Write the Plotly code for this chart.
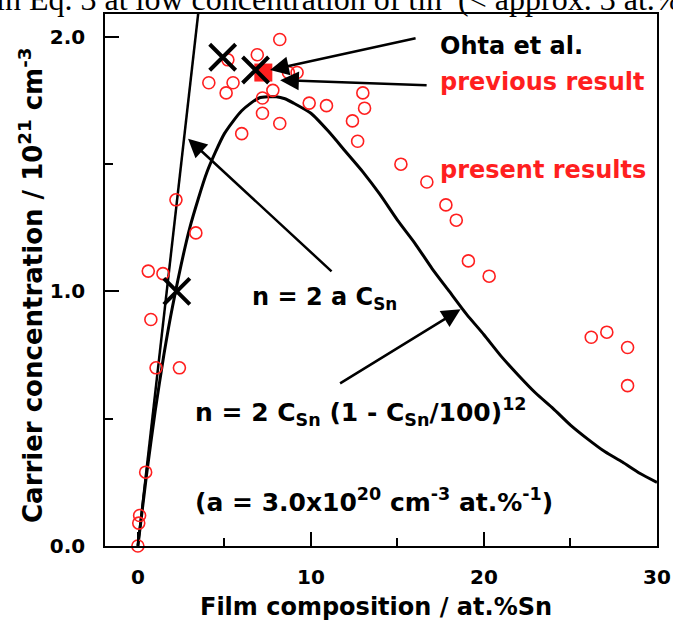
import plotly.graph_objects as go

# ---- data ----
present_x = [0.0, 0.05, 0.1, 0.45, 0.6, 1.45, 0.75, 1.05, 2.4, 2.2, 3.35, 4.1, 5.1, 5.5, 5.2,
             6.0, 6.9, 7.2, 7.2, 7.8, 8.2, 8.2, 8.7, 9.2, 9.9, 10.9, 12.4, 12.7, 13.0, 13.1,
             15.2, 16.7, 17.8, 18.4, 19.1, 20.3, 26.2, 27.1, 28.3, 28.3]
present_y = [0.0, 0.09, 0.12, 0.29, 1.08, 1.07, 0.89, 0.70, 0.70, 1.36, 1.23, 1.82, 1.78, 1.82, 1.91,
             1.62, 1.93, 1.70, 1.76, 1.79, 1.99, 1.66, 1.86, 1.86, 1.74, 1.73, 1.67, 1.59, 1.78, 1.72,
             1.50, 1.43, 1.34, 1.28, 1.12, 1.06, 0.82, 0.84, 0.78, 0.63]

ohta_x = [2.25, 4.9, 6.8]
ohta_y = [1.0, 1.92, 1.87]

previous_x = [7.25]
previous_y = [1.86]

# n = 2 C_Sn (1 - C_Sn/100)^12 curve
curve_x = [0, 0.5, 1, 1.5, 2, 3, 4, 5, 6, 7, 8, 8.5, 9, 10, 11, 12, 13, 14, 15, 16, 17, 18,
           19, 20, 21, 22, 23, 24, 25, 26, 27, 28, 29, 30]
curve_y = [0, 0.28, 0.53, 0.75, 0.94, 1.25, 1.47, 1.62, 1.71, 1.76, 1.765, 1.757, 1.74, 1.70,
           1.63, 1.55, 1.47, 1.38, 1.28, 1.19, 1.09, 1.00, 0.91, 0.83, 0.745, 0.67, 0.60, 0.54,
           0.475, 0.42, 0.37, 0.33, 0.286, 0.25]

# n = 2 a C_Sn straight line
line_x = [0, 3.6]
line_y = [0, 2.16]

x_ticks = [0, 10, 20, 30]
y_ticks = [0.0, 1.0, 2.0]

FONT = "DejaVu Sans"
RED = "#ff1f1f"

fig = go.Figure()
fig.add_trace(go.Scatter(x=line_x, y=line_y, mode="lines",
                         line=dict(color="black", width=2.5), showlegend=False))
fig.add_trace(go.Scatter(x=curve_x, y=curve_y, mode="lines", line_shape="spline",
                         line=dict(color="black", width=3, smoothing=0.6), showlegend=False))
fig.add_trace(go.Scatter(x=present_x, y=present_y, mode="markers",
                         marker=dict(symbol="circle-open", size=12, color=RED,
                                     line=dict(width=1.6, color=RED)),
                         cliponaxis=False, showlegend=False))
fig.add_trace(go.Scatter(x=previous_x, y=previous_y, mode="markers",
                         marker=dict(symbol="square", size=18, color=RED),
                         showlegend=False))
fig.add_trace(go.Scatter(x=ohta_x, y=ohta_y, mode="markers",
                         marker=dict(symbol="x-thin-open", size=26, color="black",
                                     line=dict(width=4, color="black")),
                         showlegend=False))

W, H = 673, 630
L, R, T, B = 105, 16, 14, 84
pw, ph = W - L - R, H - T - B


def px(xp):
    return (xp - L) / pw


def py(yp):
    return (H - B - yp) / ph


ann = []
# arrows (tip in data coords, tail offset in pixels)
for tx, ty, ax, ay in [(7.64, 1.87, 147, -32), (8.22, 1.83, 148, 5),
                       (2.9, 1.60, 145, 134), (18.65, 0.93, -122, 75)]:
    ann.append(dict(x=tx, y=ty, xref="x", yref="y", ax=ax, ay=ay, text="",
                    showarrow=True, arrowhead=2, arrowsize=1.5, arrowwidth=2.5,
                    arrowcolor="black", standoff=0))

def label(text, xp, yp, color="black", size=24, xanchor="left"):
    ann.append(dict(x=px(xp), y=py(yp), xref="paper", yref="paper", text=text,
                    showarrow=False, xanchor=xanchor, yanchor="middle",
                    font=dict(family=FONT, size=size, color=color)))

label("<b>Ohta et al.</b>", 438, 46)
label("<b>previous result</b>", 438, 82, RED)
label("<b>present results</b>", 438, 170, RED)
label("<b>n = 2 a C<sub>Sn</sub></b>", 250, 298)
label("<b>n = 2 C<sub>Sn</sub> (1 - C<sub>Sn</sub>/100)<sup>12</sup></b>", 193, 412, size=25)
label("<b>(a = 3.0x10<sup>20</sup> cm<sup>-3</sup> at.%<sup>-1</sup>)</b>", 193, 500, size=25)

# axis titles
label("<b>Film composition / at.%Sn</b>", 376, 607, size=24, xanchor="center")
ann.append(dict(x=px(31), y=py(286), xref="paper", yref="paper",
                text="<b>Carrier concentration / 10<sup>21</sup> cm<sup>-3</sup></b>",
                showarrow=False, textangle=-90, xanchor="center", yanchor="middle",
                font=dict(family=FONT, size=26, color="black")))

# clipped caption text from the page above the figure
ann.append(dict(x=px(-6), y=py(19), xref="paper", yref="paper",
                text="in Eq. 3 at low concentration of tin  (< approx. 3 at.%",
                showarrow=False, xanchor="left", yanchor="bottom",
                font=dict(family="Liberation Serif", size=32, color="black")))

fig.update_layout(
    width=W, height=H,
    margin=dict(l=L, r=R, t=T, b=B, autoexpand=False),
    paper_bgcolor="white", plot_bgcolor="white",
    annotations=ann,
    showlegend=False,
)
fig.update_xaxes(range=[-1.9, 30], tickvals=x_ticks, ticks="inside", ticklen=14,
                 tickwidth=1.5, tickcolor="black", automargin=False,
                 minor=dict(dtick=5, tick0=0, ticks="inside", ticklen=8, tickwidth=1.5,
                            tickcolor="black", showgrid=False),
                 showline=True, linecolor="black", linewidth=1.5, mirror=True,
                 showgrid=False, zeroline=False, ticklabelstandoff=12,
                 ticklabeloverflow="allow",
                 tickfont=dict(family=FONT, size=20, color="black", weight="bold"))
fig.update_yaxes(range=[0, 2.09], tickvals=y_ticks, tickformat=".1f", ticks="inside",
                 ticklen=14, tickwidth=1.5, tickcolor="black", automargin=False,
                 minor=dict(dtick=0.5, tick0=0, ticks="inside", ticklen=8, tickwidth=1.5,
                            tickcolor="black", showgrid=False),
                 showline=True, linecolor="black", linewidth=1.5, mirror=True,
                 showgrid=False, zeroline=False, ticklabelstandoff=14,
                 tickfont=dict(family=FONT, size=20, color="black", weight="bold"))

fig.write_html("out.html", config={"displayModeBar": False},
               post_script="document.body.style.margin='0';document.body.style.overflow='hidden';")
